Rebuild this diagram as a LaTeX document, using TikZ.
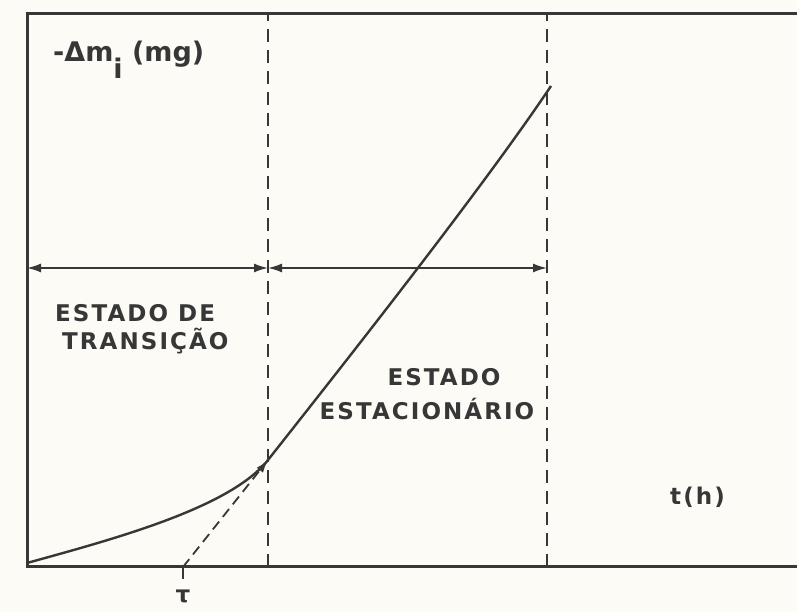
\documentclass[tikz,border=0pt]{standalone}
\usepackage{fontspec}
\setmainfont{DejaVu Sans}
\newfontfamily\lettering[LetterSpace=9]{DejaVu Sans}
\usetikzlibrary{arrows.meta}
\definecolor{ink}{RGB}{55,55,55}
\definecolor{paper}{RGB}{252,251,245}

\begin{document}
\begin{tikzpicture}[x=1pt,y=1pt,
  frame/.style={ink,line width=3pt},
  border/.style={ink,line width=1.8pt,dash pattern=on 13pt off 8pt},
  span/.style={ink,line width=1.6pt,{Latex[length=14pt,width=9pt]}-{Latex[length=14pt,width=9pt]}},
  curve/.style={ink,line width=2.4pt},
  lbl/.style={ink,inner sep=0pt,font=\lettering\bfseries\fontsize{23}{27}\selectfont}]
 \fill[paper] (0,0) rectangle (797,612);
 \useasboundingbox (0,0) rectangle (797,612);
 % axes
 \coordinate (o) at (27,45);
 \coordinate (top) at (27,598);
 \coordinate (tr) at (797,598);
 \coordinate (br) at (797,45);
 \draw[frame] (br) -- (o) -- (top) -- (tr);
 % limits of the two states
 \coordinate (s1) at (268,45); \coordinate (s1t) at (268,598);
 \coordinate (s2) at (547,45); \coordinate (s2t) at (547,598);
 \draw[border] (s1) -- (s1t);
 \draw[border] (s2) -- (s2t);
 \coordinate (a0) at (27,344); \coordinate (a1) at (268,344); \coordinate (a2) at (547,344);
 \draw[span] (a0) -- (a1);
 \draw[span] (a1) -- (a2);
 % mass curve
 \coordinate (c0) at (27,49); \coordinate (p) at (268,152); \coordinate (c1) at (551,526);
 \draw[curve] (c0) .. controls (110,72) and (230,103.6) .. (p)
   .. controls (335,237) and (480,420) .. (c1);
 % tangent down to tau
 \coordinate (tau) at (183,45); \coordinate (tick) at (183,33);
 \draw[border,dash pattern=on 10pt off 6pt,-{Latex[length=13pt,width=8pt]}] (tau) -- (p);
 \draw[ink,line width=1.8pt] (tick) -- (tau);
 % labels
 \node[lbl,anchor=base west,font=\bfseries\fontsize{27}{31}\selectfont] (dm) at (53,550) {-Δm\raisebox{-17pt}{i} (mg)};
 \node[lbl,anchor=base west] (tr1) at (55,290) {ESTADO DE};
 \node[lbl,anchor=base west] (tr2) at (62,262) {TRANSIÇÃO};
 \node[lbl,anchor=base] (st1) at (444,226) {ESTADO};
 \node[lbl,anchor=base] (st2) at (427,192) {ESTACIONÁRIO};
 \node[lbl,anchor=base west] (th) at (670,107) {t(h)};
 \node[lbl] (taulbl) at (183,16) {τ};
\end{tikzpicture}
\end{document}
